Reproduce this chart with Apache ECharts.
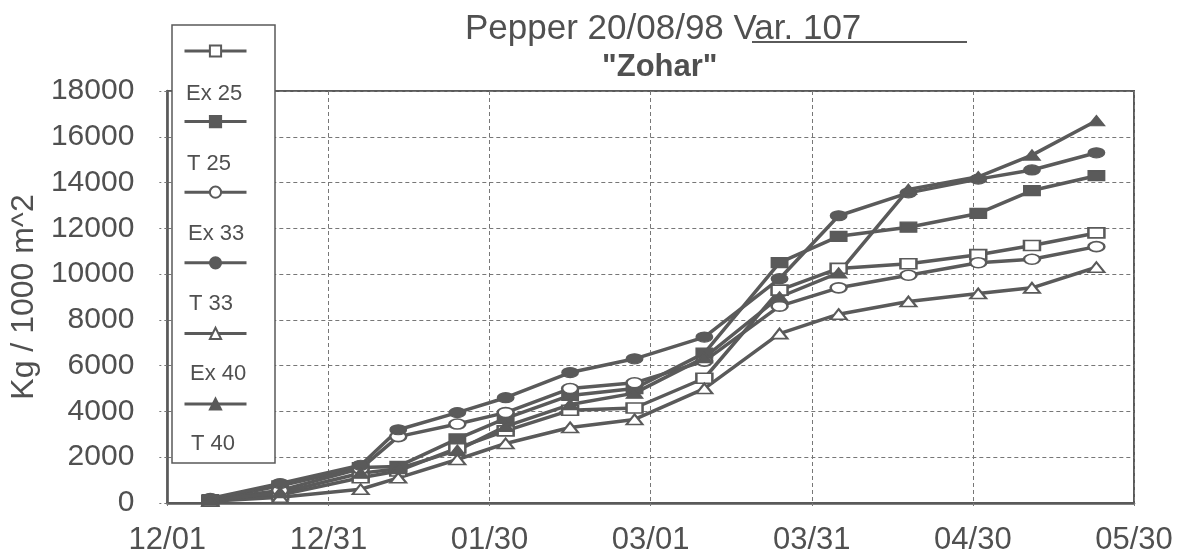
<!DOCTYPE html>
<html>
<head>
<meta charset="utf-8">
<title>Pepper 20/08/98 Var. 107</title>
<script src="https://cdn.jsdelivr.net/npm/echarts@6/dist/echarts.min.js"></script>
<style>
  html, body { margin: 0; padding: 0; background: #fff; }
  #chart { width: 1180px; height: 559px; }
</style>
</head>
<body>
<div id="chart"></div>
<script>
// season start (x axis origin) and harvest dates
var startDate = '1998-12-01';
var harvestDates = ['1998-12-09', '1998-12-22', '1999-01-06', '1999-01-13', '1999-01-24',
  '1999-02-02', '1999-02-14', '1999-02-26', '1999-03-11', '1999-03-25',
  '1999-04-05', '1999-04-18', '1999-05-01', '1999-05-11', '1999-05-23'];
var xTickLabels = ['12/01', '12/31', '01/30', '03/01', '03/31', '04/30', '05/30'];

var seriesNames = ['Ex 25', 'T 25', 'Ex 33', 'T 33', 'Ex 40', 'T 40'];
var seriesSymbols = ['emptyRect', 'rect', 'emptyCircle', 'circle', 'emptyTriangle', 'triangle'];

// Kg / 1000 m^2, cumulative
var ex25 = [100, 350, 1100, 1400, 2400, 3150, 4050, 4150, 5450, 9300, 10250, 10450, 10850, 11250, 11800];
var t25  = [150, 750, 1550, 1600, 2800, 3700, 4700, 5000, 6550, 10500, 11650, 12050, 12650, 13650, 14300];
var ex33 = [150, 550, 1500, 2900, 3450, 3950, 5000, 5250, 6200, 8600, 9400, 9950, 10500, 10650, 11200];
var t33  = [200, 850, 1650, 3200, 3950, 4600, 5700, 6300, 7250, 9800, 12550, 13550, 14150, 14550, 15300];
var ex40 = [80, 250, 600, 1100, 1900, 2600, 3300, 3650, 5000, 7400, 8250, 8800, 9150, 9400, 10300];
var t40  = [120, 450, 1300, 1500, 2300, 3350, 4300, 4800, 6350, 9000, 10050, 13700, 14250, 15200, 16700];
var seriesValues = [ex25, t25, ex33, t33, ex40, t40];

var DAY = 86400000;
var days = harvestDates.map(function (d) {
  return (Date.parse(d) - Date.parse(startDate)) / DAY;
});

var ink = '#5a5a5a';
var textInk = '#505050';
var font = '"Liberation Sans", Arial, sans-serif';

var chart = echarts.init(document.getElementById('chart'));

var series = seriesNames.map(function (name, k) {
  return {
    name: name,
    type: 'line',
    symbol: seriesSymbols[k],
    symbolSize: [16, 10],
    showAllSymbol: true,
    data: days.map(function (d, i) { return [d, seriesValues[k][i]]; }),
    lineStyle: { color: ink, width: 3.5 },
    itemStyle: { color: ink, borderColor: ink, borderWidth: 1.5 },
    emphasis: { disabled: true }
  };
});

// legend labels sit under each icon, so they are drawn as separate texts
var legendTexts = seriesNames.map(function (name, k) {
  return {
    type: 'text',
    left: 186 + k,
    top: 83 + k * 70,
    z: 7,
    style: { text: name, fill: textInk, font: '22px ' + font }
  };
});

chart.setOption({
  animation: false,
  title: [
    {
      text: 'Pepper 20/08/98 Var. 107',
      left: 460,
      top: 7,
      textStyle: { color: textInk, fontSize: 35, fontWeight: 'normal', fontFamily: font }
    },
    {
      text: '"Zohar"',
      left: 597,
      top: 47,
      textStyle: { color: textInk, fontSize: 31, fontWeight: 'bold', fontFamily: font }
    }
  ],
  grid: {
    left: 160,
    right: 46,
    top: 91,
    bottom: 56,
    show: true,
    borderColor: ink,
    borderWidth: 2,
    backgroundColor: '#fff'
  },
  legend: {
    orient: 'vertical',
    left: 183,
    top: 44,
    padding: 0,
    itemWidth: 62,
    itemHeight: 14,
    itemGap: 57,
    selectedMode: false,
    formatter: function () { return ''; },
    textStyle: { fontSize: 8 },
    lineStyle: { width: 3 },
    data: seriesNames,
    z: 6
  },
  xAxis: {
    type: 'value',
    min: 0,
    max: 180,
    interval: 30,
    axisLine: { show: true, lineStyle: { color: ink, width: 2.5 } },
    axisTick: { show: true, length: 6, lineStyle: { color: '#777', type: [3, 3] } },
    splitLine: { show: true, lineStyle: { color: '#777', width: 1, type: [4, 3] } },
    axisLabel: {
      margin: 22,
      color: textInk,
      fontSize: 31,
      fontFamily: font,
      formatter: function (v) { return xTickLabels[Math.round(v / 30)]; }
    }
  },
  yAxis: {
    type: 'value',
    min: 0,
    max: 18000,
    interval: 2000,
    name: 'Kg / 1000 m^2',
    nameLocation: 'middle',
    nameGap: 126,
    nameTextStyle: { color: textInk, fontSize: 32, fontFamily: font },
    axisLine: { show: true, lineStyle: { color: ink, width: 2.5 } },
    axisTick: { show: true, length: 8, lineStyle: { color: '#777', type: [3, 3] } },
    splitLine: { show: true, lineStyle: { color: '#777', width: 1, type: [4, 3] } },
    axisLabel: {
      margin: 33,
      color: textInk,
      fontSize: 30,
      fontFamily: font,
      formatter: function (v) { return String(v); }
    }
  },
  graphic: [
    {
      type: 'rect',
      shape: { x: 172, y: 25, width: 103, height: 438 },
      style: { fill: '#fff', stroke: ink, lineWidth: 1.5 },
      z: 5
    },
    {
      type: 'line',
      shape: { x1: 752, y1: 42, x2: 967, y2: 42 },
      style: { stroke: ink, lineWidth: 2 },
      z: 5
    }
  ].concat(legendTexts),
  series: series
});
</script>
</body>
</html>
